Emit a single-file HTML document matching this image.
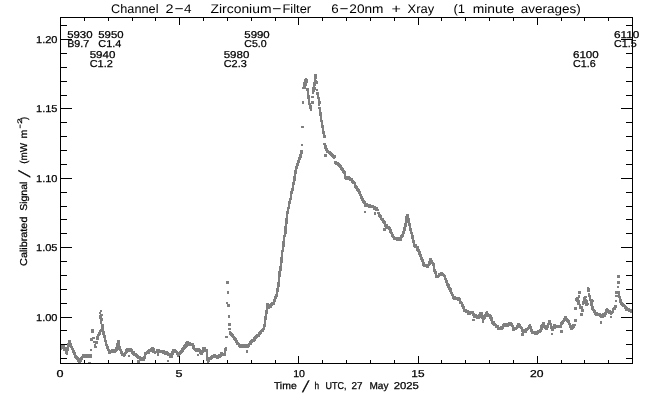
<!DOCTYPE html>
<html lang="en"><head><meta charset="utf-8"><title>Channel 2-4 Zirconium-Filter</title>
<style>html,body{margin:0;padding:0;background:#fff;width:650px;height:400px;overflow:hidden}</style>
</head><body>
<svg width="650" height="400" viewBox="0 0 650 400" style="display:block;position:absolute;left:0;top:0;will-change:transform">
<rect x="0" y="0" width="650" height="400" fill="#fff"/>
<g fill="#7f7f7f" shape-rendering="crispEdges">
<path d="M60 347h2v3h-2zM60 348h1v2h-1zM60 346h2v3h-2zM60 347h3v2h-3zM60 348h2v2h-2zM61 345h3v3h-3zM61 346h2v3h-2zM61 346h3v2h-3zM62 344h3v3h-3zM62 345h2v2h-2zM62 345h3v3h-3zM63 345h2v3h-2zM63 347h3v2h-3zM63 348h3v3h-3zM64 347h2v3h-2zM64 348h3v3h-3zM65 350h2v2h-2zM65 351h2v3h-2zM65 351h3v3h-3zM66 347h3v2h-3zM66 349h3v2h-3zM66 350h2v2h-2zM66 352h2v2h-2zM66 352h2v3h-2zM67 343h3v3h-3zM67 344h3v3h-3zM67 345h2v3h-2zM68 340h3v3h-3zM68 341h2v3h-2zM68 341h3v2h-3zM69 341h2v3h-2zM69 343h3v2h-3zM70 343h2v2h-2zM70 344h2v3h-2zM70 346h3v2h-3zM71 347h2v3h-2zM71 348h2v2h-2zM71 348h3v2h-3zM72 349h2v3h-2zM72 350h2v2h-2zM72 350h3v3h-3zM73 352h2v2h-2zM73 352h3v3h-3zM74 354h2v2h-2zM74 355h3v3h-3zM75 355h2v3h-2zM75 357h3v2h-3zM76 356h2v3h-2zM76 357h3v3h-3zM77 358h2v3h-2zM77 358h3v2h-3zM77 359h3v3h-3zM78 359h2v2h-2zM78 361h3v2h-3zM79 358h3v2h-3zM79 360h2v2h-2zM79 360h3v2h-3zM80 357h3v3h-3zM80 358h2v2h-2zM81 356h2v2h-2zM81 356h2v3h-2zM81 356h3v2h-3zM82 354h2v3h-2zM82 355h2v3h-2zM82 355h3v2h-3zM83 354h2v2h-2zM83 355h2v2h-2zM83 355h3v2h-3zM84 355h2v3h-2zM84 355h3v3h-3zM85 354h2v3h-2zM85 355h3v3h-3zM86 354h2v2h-2zM86 354h3v3h-3zM86 355h2v2h-2zM87 354h2v3h-2zM87 355h3v3h-3zM88 354h2v3h-2zM88 355h3v2h-3zM88 362h3v2h-3zM89 354h3v3h-3zM89 355h2v2h-2zM89 356h2v2h-2zM90 338h3v3h-3zM90 349h2v2h-2zM90 355h2v3h-2zM91 329h3v3h-3zM91 331h3v2h-3zM92 337h3v2h-3zM93 341h3v2h-3zM94 344h2v2h-2zM94 346h3v2h-3zM95 341h3v3h-3zM96 336h3v3h-3zM96 337h2v3h-2zM96 337h3v3h-3zM97 334h3v2h-3zM97 335h2v3h-2zM98 332h2v3h-2zM98 332h3v3h-3zM98 333h2v3h-2zM99 312h2v2h-2zM99 315h3v3h-3zM99 317h3v2h-3zM99 330h2v3h-2zM99 330h3v2h-3zM99 332h2v2h-2zM100 310h2v2h-2zM100 314h3v2h-3zM100 318h3v3h-3zM100 320h2v2h-2zM100 322h2v2h-2zM100 329h2v2h-2zM100 329h2v3h-2zM100 329h3v2h-3zM101 324h3v3h-3zM101 326h2v2h-2zM101 327h3v3h-3zM101 328h2v3h-2zM102 329h2v3h-2zM102 331h3v2h-3zM102 332h3v3h-3zM103 334h2v2h-2zM103 335h3v3h-3zM104 337h2v3h-2zM104 339h2v2h-2zM104 340h3v2h-3zM105 342h2v2h-2zM105 342h2v3h-2zM105 344h3v2h-3zM106 345h2v2h-2zM106 345h2v3h-2zM106 346h3v3h-3zM107 347h2v2h-2zM107 349h3v2h-3zM108 350h2v2h-2zM108 351h2v2h-2zM108 351h3v3h-3zM108 352h3v2h-3zM109 350h3v3h-3zM109 351h2v2h-2zM110 350h2v3h-2zM110 350h3v3h-3zM111 349h2v3h-2zM111 350h3v3h-3zM111 351h2v2h-2zM112 349h2v3h-2zM112 350h2v2h-2zM112 350h3v2h-3zM113 349h3v2h-3zM113 350h2v2h-2zM114 349h3v3h-3zM114 350h2v3h-2zM115 347h3v3h-3zM115 348h3v3h-3zM115 349h2v3h-2zM116 343h3v2h-3zM116 344h3v3h-3zM116 346h2v3h-2zM117 340h3v2h-3zM117 342h2v2h-2zM118 342h2v2h-2zM118 344h2v2h-2zM118 346h3v3h-3zM118 347h3v3h-3zM119 348h2v3h-2zM119 349h3v2h-3zM120 349h2v3h-2zM120 351h2v2h-2zM120 351h3v3h-3zM121 353h2v3h-2zM121 354h2v2h-2zM121 354h3v2h-3zM122 353h2v2h-2zM122 354h3v2h-3zM123 354h2v3h-2zM123 354h3v2h-3zM124 352h3v2h-3zM124 354h2v2h-2zM125 349h3v3h-3zM125 350h3v3h-3zM125 352h2v2h-2zM126 348h2v3h-2zM126 348h3v2h-3zM127 348h3v3h-3zM127 349h2v2h-2zM127 349h3v3h-3zM128 349h2v3h-2zM128 349h3v3h-3zM128 355h2v2h-2zM129 348h2v3h-2zM129 348h3v3h-3zM129 349h3v2h-3zM130 349h2v3h-2zM130 349h3v3h-3zM131 350h2v3h-2zM131 351h2v3h-2zM131 352h3v2h-3zM132 351h2v3h-2zM132 352h2v2h-2zM132 352h3v3h-3zM133 351h2v3h-2zM133 353h2v2h-2zM133 353h3v3h-3zM134 354h2v2h-2zM134 354h3v2h-3zM135 353h2v3h-2zM135 354h2v2h-2zM135 355h3v2h-3zM136 354h2v3h-2zM136 355h2v3h-2zM136 355h3v3h-3zM136 356h3v2h-3zM137 356h2v2h-2zM137 357h3v2h-3zM137 360h3v3h-3zM138 356h2v3h-2zM138 356h3v3h-3zM138 357h2v2h-2zM139 357h2v2h-2zM139 358h2v2h-2zM139 358h3v2h-3zM140 357h2v2h-2zM140 358h2v2h-2zM140 358h3v3h-3zM141 357h3v3h-3zM141 358h2v2h-2zM142 357h2v2h-2zM142 357h3v2h-3zM142 358h2v2h-2zM143 356h3v3h-3zM143 358h2v2h-2zM143 359h2v2h-2zM144 352h3v3h-3zM144 353h3v2h-3zM144 354h2v2h-2zM144 355h2v3h-2zM145 352h2v2h-2zM145 352h3v2h-3zM146 351h2v3h-2zM146 352h2v2h-2zM146 352h3v2h-3zM147 350h3v3h-3zM147 351h2v3h-2zM147 352h2v2h-2zM148 349h3v3h-3zM148 350h2v2h-2zM148 351h2v3h-2zM149 349h2v2h-2zM149 349h2v3h-2zM149 349h3v2h-3zM150 348h3v3h-3zM150 349h2v2h-2zM150 349h2v3h-2zM151 347h3v3h-3zM151 348h2v3h-2zM151 348h3v3h-3zM152 348h2v3h-2zM152 348h3v3h-3zM152 350h3v3h-3zM153 350h2v2h-2zM153 351h3v2h-3zM154 351h2v3h-2zM154 351h3v2h-3zM154 352h2v2h-2zM155 351h2v2h-2zM155 351h3v2h-3zM156 349h2v3h-2zM156 349h3v3h-3zM156 350h2v2h-2zM157 349h2v2h-2zM157 349h3v3h-3zM157 350h2v2h-2zM157 353h2v3h-2zM158 350h2v2h-2zM158 350h3v3h-3zM159 350h2v2h-2zM159 350h3v2h-3zM160 350h2v2h-2zM160 350h3v3h-3zM161 350h2v2h-2zM161 350h2v3h-2zM161 350h3v3h-3zM162 351h2v2h-2zM162 351h2v3h-2zM162 351h3v3h-3zM163 350h2v3h-2zM163 351h2v3h-2zM163 351h3v3h-3zM164 351h3v2h-3zM164 352h2v3h-2zM164 352h3v3h-3zM165 351h2v3h-2zM165 352h3v2h-3zM166 351h2v3h-2zM166 352h2v2h-2zM166 352h3v2h-3zM167 353h2v3h-2zM167 354h3v2h-3zM167 360h2v2h-2zM168 353h2v2h-2zM168 354h2v2h-2zM168 354h3v2h-3zM169 353h2v3h-2zM169 355h3v2h-3zM169 355h3v3h-3zM170 354h2v3h-2zM170 355h3v2h-3zM170 356h3v2h-3zM171 351h3v3h-3zM171 353h3v2h-3zM171 354h2v2h-2zM172 349h3v2h-3zM172 350h2v2h-2zM173 349h2v2h-2zM173 349h3v2h-3zM173 349h3v3h-3zM174 350h2v3h-2zM174 350h3v2h-3zM175 351h2v2h-2zM175 351h3v2h-3zM176 351h2v3h-2zM176 352h2v2h-2zM176 352h3v2h-3zM176 352h3v3h-3zM177 354h2v3h-2zM177 354h3v3h-3zM177 355h3v2h-3zM178 352h3v2h-3zM178 352h3v3h-3zM178 353h2v2h-2zM179 351h3v3h-3zM179 352h2v3h-2zM180 350h2v3h-2zM180 351h3v2h-3zM181 348h3v3h-3zM181 349h2v3h-2zM181 350h2v3h-2zM182 347h3v3h-3zM182 348h2v2h-2zM182 349h2v3h-2zM183 345h2v3h-2zM183 346h2v2h-2zM183 346h3v3h-3zM184 344h2v3h-2zM184 345h2v3h-2zM184 345h3v3h-3zM185 342h3v3h-3zM185 344h2v3h-2zM185 344h3v3h-3zM186 341h3v3h-3zM186 343h2v3h-2zM186 343h3v2h-3zM187 342h2v3h-2zM187 342h3v3h-3zM187 343h3v2h-3zM188 342h3v3h-3zM188 343h2v3h-2zM189 342h2v3h-2zM189 343h2v3h-2zM189 343h3v2h-3zM190 343h2v2h-2zM190 343h3v2h-3zM191 343h2v3h-2zM191 343h3v3h-3zM192 345h2v3h-2zM192 345h3v3h-3zM192 346h3v3h-3zM193 347h2v2h-2zM193 348h3v2h-3zM194 348h2v2h-2zM194 348h2v3h-2zM194 348h3v2h-3zM195 348h3v2h-3zM195 349h2v2h-2zM195 349h2v3h-2zM196 348h2v3h-2zM196 349h3v3h-3zM197 348h2v2h-2zM197 348h3v3h-3zM197 349h2v2h-2zM197 354h2v2h-2zM198 348h2v3h-2zM198 349h2v2h-2zM198 349h3v2h-3zM198 349h3v3h-3zM199 350h2v3h-2zM199 351h3v3h-3zM200 350h2v3h-2zM200 352h2v2h-2zM200 352h3v3h-3zM201 351h3v2h-3zM201 352h2v3h-2zM202 347h3v3h-3zM202 349h2v2h-2zM202 349h2v3h-2zM203 347h2v2h-2zM203 347h3v3h-3zM203 348h2v2h-2zM204 347h2v3h-2zM204 349h2v3h-2zM204 350h3v2h-3zM205 349h3v3h-3zM205 350h2v2h-2zM205 350h3v2h-3zM206 352h2v2h-2zM206 354h2v3h-2zM206 357h3v2h-3zM206 359h3v2h-3zM207 359h3v3h-3zM207 360h2v3h-2zM207 361h2v3h-2zM207 362h2v2h-2zM208 357h3v3h-3zM208 359h2v3h-2zM209 357h2v2h-2zM209 357h3v3h-3zM210 356h3v3h-3zM210 357h2v2h-2zM211 355h3v3h-3zM211 356h2v3h-2zM211 356h3v2h-3zM212 355h2v3h-2zM212 355h3v3h-3zM213 354h2v3h-2zM213 355h2v2h-2zM213 355h3v2h-3zM214 354h2v3h-2zM214 355h2v2h-2zM214 355h3v2h-3zM214 355h3v3h-3zM215 355h2v3h-2zM215 356h3v2h-3zM216 355h2v3h-2zM216 355h3v3h-3zM216 356h2v3h-2zM217 355h2v3h-2zM217 356h3v2h-3zM217 357h2v2h-2zM218 354h2v3h-2zM218 355h2v3h-2zM218 355h3v3h-3zM219 354h3v3h-3zM219 355h2v2h-2zM220 352h3v3h-3zM220 354h2v2h-2zM220 354h2v3h-2zM221 353h2v2h-2zM221 353h3v3h-3zM222 353h2v3h-2zM222 353h3v2h-3zM223 353h2v3h-2zM223 353h3v2h-3zM223 353h3v3h-3zM224 348h3v3h-3zM224 350h2v2h-2zM224 351h2v3h-2zM225 336h3v2h-3zM225 347h2v3h-2zM226 281h3v3h-3zM226 302h2v2h-2zM227 291h2v3h-2zM227 304h3v3h-3zM228 315h2v3h-2zM228 323h3v3h-3zM228 328h3v2h-3zM229 331h2v2h-2zM229 332h2v2h-2zM229 332h3v3h-3zM230 332h2v3h-2zM230 333h2v2h-2zM230 333h3v3h-3zM231 334h2v3h-2zM231 334h3v2h-3zM231 334h3v3h-3zM232 336h2v2h-2zM232 336h3v2h-3zM233 336h2v3h-2zM233 337h2v3h-2zM233 337h3v2h-3zM234 338h2v3h-2zM234 338h3v3h-3zM235 338h2v3h-2zM235 339h2v3h-2zM235 341h3v2h-3zM236 340h2v3h-2zM236 341h2v3h-2zM236 342h3v2h-3zM236 342h3v3h-3zM237 342h2v3h-2zM237 343h3v2h-3zM238 344h2v2h-2zM238 344h2v3h-2zM238 344h3v3h-3zM239 344h2v2h-2zM239 344h3v3h-3zM239 345h2v3h-2zM240 344h2v3h-2zM240 344h3v3h-3zM240 345h2v3h-2zM241 344h3v2h-3zM241 345h2v2h-2zM242 344h2v2h-2zM242 344h2v3h-2zM242 345h3v3h-3zM243 345h2v3h-2zM243 345h3v3h-3zM244 344h2v3h-2zM244 345h2v2h-2zM244 345h3v2h-3zM245 344h3v3h-3zM245 345h2v2h-2zM246 344h2v3h-2zM246 345h2v3h-2zM246 346h3v2h-3zM246 350h2v3h-2zM247 344h2v2h-2zM247 344h3v3h-3zM247 346h2v2h-2zM248 343h3v2h-3zM248 344h2v3h-2zM249 341h3v3h-3zM249 342h2v2h-2zM249 342h3v3h-3zM250 340h2v3h-2zM250 340h3v2h-3zM250 341h2v2h-2zM251 339h3v2h-3zM251 340h2v3h-2zM251 341h2v2h-2zM252 339h3v2h-3zM252 339h3v3h-3zM252 340h2v2h-2zM253 337h3v3h-3zM253 338h2v3h-2zM254 336h3v2h-3zM254 337h2v2h-2zM254 338h2v3h-2zM255 335h2v3h-2zM255 336h2v3h-2zM255 336h3v2h-3zM256 334h2v3h-2zM256 334h3v3h-3zM256 335h2v2h-2zM257 334h2v2h-2zM257 334h3v3h-3zM258 332h2v3h-2zM258 333h2v3h-2zM258 333h3v2h-3zM259 331h2v3h-2zM259 332h3v2h-3zM259 333h2v2h-2zM260 330h2v3h-2zM260 330h3v2h-3zM260 332h2v2h-2zM261 329h2v3h-2zM261 329h3v2h-3zM261 330h3v2h-3zM262 328h2v2h-2zM262 328h3v2h-3zM263 324h3v3h-3zM263 325h2v3h-2zM263 326h2v3h-2zM264 316h3v2h-3zM264 318h3v2h-3zM264 319h2v3h-2zM264 321h2v2h-2zM264 323h2v2h-2zM265 310h3v2h-3zM265 312h3v2h-3zM265 314h2v2h-2zM266 303h3v2h-3zM266 303h3v3h-3zM266 304h3v3h-3zM266 305h2v2h-2zM266 307h2v2h-2zM266 308h2v3h-2zM267 304h2v3h-2zM267 305h3v2h-3zM267 307h3v2h-3zM268 305h2v2h-2zM268 305h2v3h-2zM268 305h3v2h-3zM269 304h2v3h-2zM269 305h2v3h-2zM269 305h3v3h-3zM270 303h3v3h-3zM270 304h2v2h-2zM270 304h2v3h-2zM271 302h3v2h-3zM271 303h2v3h-2zM271 303h3v2h-3zM272 302h2v2h-2zM272 302h3v3h-3zM273 299h2v3h-2zM273 299h3v3h-3zM273 300h2v3h-2zM274 296h3v2h-3zM274 296h3v3h-3zM274 298h2v2h-2zM274 299h2v2h-2zM275 294h3v3h-3zM275 295h2v2h-2zM275 295h3v2h-3zM276 288h3v2h-3zM276 290h3v2h-3zM276 291h2v3h-2zM276 293h2v2h-2zM277 282h3v3h-3zM277 284h3v3h-3zM277 286h2v2h-2zM278 271h3v3h-3zM278 273h3v2h-3zM278 274h3v3h-3zM278 276h2v2h-2zM278 277h2v3h-2zM278 279h2v2h-2zM278 279h2v3h-2zM278 280h2v3h-2zM279 266h3v3h-3zM279 268h3v3h-3zM279 270h2v3h-2zM280 257h3v2h-3zM280 258h3v3h-3zM280 260h3v3h-3zM280 262h2v2h-2zM280 263h2v2h-2zM280 263h2v3h-2zM280 264h2v3h-2zM281 250h3v2h-3zM281 252h2v3h-2zM281 253h2v2h-2zM281 255h2v2h-2zM282 241h3v2h-3zM282 243h3v2h-3zM282 245h3v2h-3zM282 246h2v3h-2zM282 248h2v2h-2zM283 235h3v2h-3zM283 237h2v2h-2zM283 239h2v2h-2zM284 226h3v2h-3zM284 227h3v3h-3zM284 229h3v3h-3zM284 231h3v3h-3zM284 233h2v3h-2zM285 218h3v2h-3zM285 219h3v3h-3zM285 221h3v3h-3zM285 224h2v2h-2zM286 211h3v3h-3zM286 213h2v3h-2zM286 216h2v2h-2zM287 207h3v2h-3zM287 208h2v3h-2zM287 209h2v2h-2zM288 201h3v3h-3zM288 203h2v2h-2zM288 205h2v2h-2zM289 198h3v2h-3zM289 199h2v3h-2zM290 191h3v3h-3zM290 192h3v2h-3zM290 194h2v2h-2zM290 196h2v2h-2zM291 188h3v3h-3zM291 190h2v3h-2zM292 182h3v3h-3zM292 183h3v2h-3zM292 185h2v2h-2zM292 187h2v2h-2zM293 176h3v3h-3zM293 178h3v3h-3zM293 180h2v3h-2zM294 170h3v2h-3zM294 172h3v2h-3zM294 174h2v2h-2zM295 166h3v3h-3zM295 168h2v2h-2zM295 169h2v2h-2zM296 163h3v3h-3zM296 164h2v3h-2zM297 160h3v3h-3zM297 162h2v3h-2zM297 163h2v3h-2zM298 157h3v3h-3zM298 158h2v3h-2zM298 158h3v2h-3zM299 154h3v2h-3zM299 156h3v2h-3zM299 157h2v2h-2zM300 150h3v2h-3zM300 152h3v2h-3zM300 153h2v2h-2zM301 126h3v2h-3zM301 144h2v2h-2zM302 87h3v2h-3zM302 101h2v3h-2zM303 82h3v3h-3zM303 83h2v3h-2zM303 85h2v2h-2zM303 87h3v2h-3zM304 79h3v2h-3zM304 80h2v2h-2zM304 81h2v3h-2zM304 83h3v2h-3zM304 84h3v2h-3zM304 85h2v3h-2zM305 78h2v2h-2zM305 80h3v3h-3zM305 81h2v3h-2zM306 79h2v2h-2zM306 88h3v3h-3zM307 91h2v3h-2zM307 93h2v2h-2zM307 95h3v2h-3zM307 96h3v3h-3zM307 97h3v2h-3zM308 99h2v2h-2zM308 101h2v2h-2zM308 103h3v2h-3zM309 103h2v3h-2zM309 105h3v2h-3zM309 107h3v2h-3zM310 109h2v2h-2zM311 96h3v2h-3zM311 101h3v3h-3zM312 87h3v3h-3zM312 89h3v3h-3zM312 91h2v3h-2zM313 82h3v2h-3zM313 84h3v2h-3zM313 86h2v2h-2zM313 87h2v2h-2zM313 87h3v3h-3zM314 74h3v2h-3zM314 76h3v3h-3zM314 78h2v3h-2zM314 79h2v3h-2zM314 80h2v2h-2zM315 80h2v2h-2zM315 81h3v3h-3zM316 89h2v2h-2zM316 92h3v3h-3zM317 95h2v2h-2zM317 97h3v2h-3zM318 99h2v2h-2zM318 101h3v3h-3zM318 104h2v2h-2zM318 107h3v2h-3zM319 109h2v2h-2zM319 110h2v3h-2zM319 112h3v2h-3zM319 114h3v2h-3zM320 116h2v2h-2zM320 118h2v2h-2zM320 120h3v2h-3zM321 122h2v2h-2zM321 124h2v2h-2zM321 125h3v3h-3zM321 126h3v2h-3zM322 128h2v2h-2zM322 130h2v2h-2zM322 131h3v3h-3zM322 132h3v2h-3zM323 133h2v2h-2zM323 134h2v3h-2zM323 135h3v3h-3zM323 143h3v2h-3zM324 144h2v2h-2zM324 145h3v3h-3zM324 146h3v3h-3zM324 154h3v3h-3zM325 148h2v2h-2zM325 148h3v3h-3zM325 149h3v2h-3zM326 150h2v2h-2zM326 150h3v2h-3zM326 150h3v3h-3zM327 151h2v2h-2zM327 151h3v2h-3zM328 151h2v2h-2zM328 151h2v3h-2zM328 152h3v2h-3zM329 151h2v3h-2zM329 152h3v3h-3zM329 153h2v2h-2zM330 153h2v2h-2zM330 153h2v3h-2zM330 153h3v2h-3zM331 153h2v3h-2zM331 154h3v3h-3zM332 154h2v3h-2zM332 156h3v2h-3zM333 155h3v3h-3zM333 156h2v3h-2zM334 161h3v3h-3zM335 161h2v3h-2zM335 162h3v3h-3zM335 163h3v2h-3zM336 162h2v3h-2zM336 162h3v3h-3zM337 163h2v2h-2zM337 163h3v3h-3zM337 164h3v2h-3zM338 164h2v2h-2zM338 164h3v3h-3zM339 164h2v2h-2zM339 165h3v3h-3zM339 166h3v2h-3zM340 166h2v3h-2zM340 167h3v2h-3zM340 168h3v2h-3zM341 168h2v2h-2zM341 168h3v3h-3zM342 169h2v2h-2zM342 170h3v3h-3zM343 170h2v3h-2zM343 171h3v3h-3zM344 172h2v2h-2zM344 173h2v2h-2zM344 174h2v2h-2zM344 176h3v3h-3zM344 177h3v2h-3zM345 176h3v2h-3zM345 177h2v3h-2zM345 177h3v2h-3zM346 177h2v3h-2zM346 177h3v3h-3zM347 176h3v3h-3zM347 177h3v2h-3zM347 178h2v2h-2zM348 177h2v2h-2zM348 177h3v2h-3zM349 178h2v2h-2zM349 178h2v3h-2zM349 178h3v3h-3zM350 178h2v2h-2zM350 178h2v3h-2zM350 178h3v3h-3zM351 180h2v2h-2zM351 181h3v2h-3zM352 180h2v2h-2zM352 181h2v2h-2zM352 181h3v3h-3zM353 181h2v3h-2zM353 182h2v2h-2zM353 182h3v2h-3zM354 183h2v2h-2zM354 184h2v2h-2zM354 185h3v3h-3zM355 186h2v3h-2zM355 186h3v2h-3zM355 186h3v3h-3zM356 187h2v3h-2zM356 188h2v3h-2zM356 188h3v3h-3zM357 189h2v2h-2zM357 189h3v3h-3zM358 191h2v3h-2zM358 191h3v2h-3zM358 191h3v3h-3zM359 193h2v2h-2zM359 194h3v2h-3zM360 195h2v3h-2zM360 196h3v3h-3zM361 198h2v2h-2zM361 198h2v3h-2zM361 198h3v2h-3zM362 199h2v2h-2zM362 200h2v3h-2zM362 200h3v2h-3zM363 201h2v2h-2zM363 201h3v3h-3zM363 202h3v2h-3zM364 203h2v3h-2zM364 203h3v3h-3zM364 204h3v3h-3zM364 211h2v2h-2zM365 203h2v2h-2zM365 203h3v3h-3zM365 204h3v2h-3zM366 203h2v2h-2zM366 205h3v2h-3zM367 204h2v2h-2zM367 204h3v3h-3zM367 205h3v2h-3zM368 205h2v3h-2zM368 205h3v2h-3zM369 204h2v3h-2zM369 205h3v3h-3zM370 205h3v2h-3zM370 206h2v2h-2zM371 206h2v2h-2zM371 206h3v2h-3zM372 205h2v3h-2zM372 206h3v2h-3zM373 206h2v3h-2zM373 206h3v3h-3zM373 207h2v3h-2zM374 207h2v2h-2zM374 208h3v2h-3zM374 212h2v3h-2zM375 207h2v2h-2zM375 207h3v2h-3zM375 208h2v3h-2zM376 209h2v2h-2zM376 209h3v2h-3zM377 209h2v2h-2zM377 212h3v2h-3zM378 213h2v3h-2zM378 214h3v2h-3zM378 214h3v3h-3zM379 214h2v2h-2zM379 215h3v3h-3zM379 216h3v2h-3zM380 216h2v3h-2zM380 218h3v2h-3zM381 218h2v3h-2zM381 218h3v2h-3zM382 218h2v3h-2zM382 219h2v3h-2zM382 220h3v3h-3zM383 220h2v3h-2zM383 221h2v2h-2zM383 221h3v3h-3zM383 228h3v3h-3zM384 223h2v3h-2zM384 224h2v3h-2zM384 224h3v2h-3zM384 225h3v2h-3zM385 224h3v3h-3zM385 225h2v3h-2zM385 226h3v3h-3zM386 225h2v3h-2zM386 226h2v2h-2zM386 226h3v3h-3zM387 226h2v3h-2zM387 226h3v3h-3zM387 227h3v2h-3zM388 227h2v3h-2zM388 227h3v3h-3zM389 228h2v3h-2zM389 229h3v3h-3zM389 230h3v3h-3zM390 232h2v2h-2zM390 232h3v2h-3zM391 234h2v2h-2zM391 234h2v3h-2zM391 234h3v3h-3zM392 235h2v2h-2zM392 236h3v2h-3zM393 236h2v3h-2zM393 237h3v3h-3zM393 238h3v2h-3zM394 237h3v2h-3zM394 238h2v2h-2zM394 238h3v2h-3zM395 237h3v2h-3zM395 238h2v2h-2zM396 238h2v3h-2zM396 238h3v2h-3zM396 238h3v3h-3zM397 237h2v2h-2zM397 238h3v2h-3zM398 237h3v3h-3zM398 238h2v2h-2zM398 239h3v2h-3zM399 238h2v3h-2zM399 238h3v3h-3zM399 239h3v2h-3zM400 235h2v3h-2zM400 236h3v2h-3zM400 237h2v3h-2zM401 234h2v3h-2zM401 234h3v3h-3zM402 231h2v3h-2zM402 231h3v2h-3zM402 231h3v3h-3zM402 233h2v3h-2zM403 227h3v3h-3zM403 228h3v3h-3zM403 229h2v3h-2zM404 223h3v2h-3zM404 225h3v2h-3zM404 226h2v2h-2zM405 216h3v3h-3zM405 217h3v2h-3zM405 219h3v2h-3zM405 221h2v2h-2zM406 214h3v3h-3zM406 215h2v3h-2zM406 216h2v2h-2zM407 216h2v3h-2zM407 218h3v3h-3zM407 220h3v3h-3zM408 222h2v2h-2zM408 223h3v3h-3zM409 225h2v3h-2zM409 226h2v3h-2zM409 228h3v3h-3zM410 230h2v2h-2zM410 232h3v2h-3zM411 233h2v3h-2zM411 235h3v2h-3zM411 237h3v2h-3zM412 238h2v2h-2zM412 240h3v2h-3zM412 240h3v3h-3zM413 241h2v3h-2zM413 243h2v2h-2zM413 244h3v2h-3zM413 245h3v2h-3zM414 244h2v3h-2zM414 244h3v3h-3zM414 246h3v2h-3zM415 246h2v2h-2zM415 246h3v2h-3zM416 246h3v3h-3zM416 247h2v3h-2zM416 248h3v3h-3zM417 248h2v2h-2zM417 249h3v3h-3zM418 250h2v2h-2zM418 251h3v3h-3zM418 252h3v3h-3zM419 253h2v3h-2zM419 254h3v3h-3zM420 256h2v2h-2zM420 257h3v2h-3zM420 258h3v2h-3zM421 259h2v3h-2zM421 259h3v3h-3zM422 260h2v3h-2zM422 261h2v2h-2zM422 262h3v2h-3zM422 263h3v3h-3zM423 264h2v3h-2zM423 264h3v3h-3zM423 265h2v2h-2zM424 264h2v3h-2zM424 265h2v2h-2zM424 265h3v2h-3zM425 264h2v2h-2zM425 265h3v2h-3zM426 264h2v3h-2zM426 264h3v2h-3zM426 265h3v3h-3zM427 264h2v2h-2zM427 264h3v2h-3zM428 261h3v3h-3zM428 263h2v3h-2zM428 263h3v2h-3zM429 258h3v2h-3zM429 258h3v3h-3zM429 260h2v2h-2zM430 260h2v2h-2zM430 260h2v3h-2zM430 260h3v3h-3zM431 262h2v2h-2zM431 262h3v2h-3zM432 263h2v3h-2zM432 263h3v3h-3zM432 264h2v2h-2zM432 264h3v2h-3zM433 265h2v3h-2zM433 267h2v3h-2zM433 269h3v2h-3zM433 269h3v3h-3zM434 269h2v3h-2zM434 271h3v3h-3zM434 272h3v2h-3zM435 273h2v3h-2zM435 275h3v3h-3zM436 275h2v2h-2zM436 275h3v3h-3zM437 275h2v2h-2zM437 275h3v2h-3zM438 273h3v3h-3zM438 274h2v2h-2zM438 274h3v2h-3zM439 273h2v2h-2zM439 274h3v2h-3zM440 272h3v2h-3zM440 273h2v3h-2zM441 273h2v2h-2zM441 273h3v2h-3zM442 274h2v2h-2zM442 274h3v2h-3zM443 274h2v3h-2zM443 275h3v2h-3zM444 276h2v2h-2zM444 277h2v2h-2zM444 278h3v2h-3zM445 279h2v3h-2zM445 280h2v2h-2zM445 280h3v3h-3zM446 282h2v2h-2zM446 283h3v3h-3zM447 284h2v2h-2zM447 284h3v3h-3zM447 286h3v2h-3zM448 287h2v3h-2zM448 287h3v2h-3zM448 288h3v2h-3zM449 287h2v3h-2zM449 288h3v3h-3zM449 289h3v3h-3zM450 291h2v2h-2zM450 291h2v3h-2zM450 292h3v2h-3zM451 292h2v2h-2zM451 294h3v2h-3zM452 294h2v3h-2zM452 296h3v2h-3zM452 296h3v3h-3zM453 296h2v3h-2zM453 296h3v3h-3zM453 297h3v3h-3zM454 296h2v3h-2zM454 297h3v3h-3zM455 297h2v3h-2zM455 297h3v3h-3zM455 298h3v2h-3zM456 298h2v2h-2zM456 298h3v2h-3zM457 297h2v3h-2zM457 298h3v3h-3zM458 297h2v3h-2zM458 298h3v3h-3zM458 299h2v2h-2zM458 299h3v2h-3zM459 299h2v3h-2zM459 302h3v2h-3zM460 301h2v3h-2zM460 302h3v2h-3zM461 302h2v3h-2zM461 304h2v2h-2zM461 304h3v3h-3zM462 306h2v2h-2zM462 306h3v3h-3zM462 307h2v2h-2zM463 308h2v3h-2zM463 309h3v3h-3zM464 309h2v3h-2zM464 309h3v2h-3zM464 310h2v2h-2zM465 310h2v3h-2zM465 311h3v2h-3zM466 310h2v2h-2zM466 310h3v3h-3zM467 310h2v3h-2zM467 312h3v3h-3zM468 312h2v2h-2zM468 312h2v3h-2zM468 312h3v2h-3zM468 312h3v3h-3zM469 311h2v3h-2zM469 311h3v2h-3zM470 311h2v2h-2zM470 311h3v2h-3zM470 312h2v2h-2zM471 311h2v2h-2zM471 311h2v3h-2zM471 311h3v2h-3zM472 312h2v2h-2zM472 312h2v3h-2zM472 313h3v3h-3zM472 319h3v2h-3zM473 313h2v3h-2zM473 314h3v2h-3zM473 315h3v3h-3zM474 315h2v2h-2zM474 315h2v3h-2zM474 315h3v3h-3zM475 314h2v3h-2zM475 315h2v3h-2zM475 315h3v3h-3zM476 315h3v3h-3zM476 316h2v3h-2zM476 316h3v3h-3zM477 316h2v3h-2zM477 316h3v2h-3zM477 317h3v2h-3zM478 314h3v2h-3zM478 315h2v2h-2zM478 315h3v3h-3zM479 312h3v3h-3zM479 313h2v2h-2zM480 312h3v3h-3zM480 313h2v2h-2zM480 313h2v3h-2zM481 314h2v2h-2zM481 315h3v2h-3zM481 316h3v3h-3zM482 316h2v2h-2zM482 317h3v2h-3zM482 317h3v3h-3zM482 320h2v3h-2zM483 316h3v2h-3zM483 316h3v3h-3zM483 317h2v3h-2zM484 314h3v2h-3zM484 315h2v2h-2zM485 312h3v3h-3zM485 313h2v3h-2zM485 314h2v3h-2zM486 311h2v3h-2zM486 312h2v3h-2zM486 313h3v3h-3zM487 313h2v3h-2zM487 314h2v2h-2zM487 314h3v3h-3zM488 314h2v2h-2zM488 314h3v3h-3zM489 315h2v2h-2zM489 315h3v3h-3zM489 316h2v3h-2zM490 316h2v2h-2zM490 317h2v2h-2zM490 317h3v3h-3zM490 319h3v2h-3zM491 320h2v3h-2zM491 321h3v3h-3zM492 321h3v3h-3zM492 322h2v3h-2zM492 322h3v3h-3zM493 323h2v2h-2zM493 323h3v3h-3zM494 324h2v2h-2zM494 324h3v2h-3zM495 324h2v2h-2zM495 325h3v3h-3zM496 325h2v3h-2zM496 325h3v3h-3zM496 326h2v2h-2zM497 326h2v3h-2zM497 327h3v2h-3zM497 327h3v3h-3zM498 327h2v2h-2zM498 327h2v3h-2zM498 328h3v2h-3zM499 327h2v2h-2zM499 327h3v2h-3zM500 326h3v3h-3zM500 327h2v3h-2zM500 328h3v2h-3zM501 326h2v3h-2zM501 326h3v3h-3zM502 324h3v3h-3zM502 325h3v2h-3zM502 326h2v3h-2zM503 323h2v3h-2zM503 324h3v2h-3zM503 324h3v3h-3zM504 323h2v2h-2zM504 323h3v3h-3zM504 324h3v3h-3zM505 324h2v2h-2zM505 325h3v2h-3zM506 324h3v3h-3zM506 325h2v2h-2zM507 323h3v3h-3zM507 324h2v3h-2zM507 325h2v2h-2zM508 322h3v2h-3zM508 323h2v2h-2zM508 323h2v3h-2zM509 322h2v2h-2zM509 322h3v2h-3zM510 322h2v2h-2zM510 323h3v2h-3zM510 323h3v3h-3zM511 323h2v3h-2zM511 325h3v2h-3zM512 327h2v2h-2zM512 328h2v3h-2zM512 328h3v3h-3zM513 327h2v3h-2zM513 327h3v2h-3zM513 328h2v3h-2zM514 327h2v3h-2zM514 327h3v3h-3zM515 327h2v2h-2zM515 327h3v2h-3zM516 325h3v3h-3zM516 326h2v3h-2zM517 323h3v3h-3zM517 324h2v3h-2zM518 323h2v3h-2zM518 324h2v2h-2zM518 324h3v3h-3zM519 325h2v2h-2zM519 326h3v2h-3zM520 326h2v3h-2zM520 327h3v2h-3zM521 328h2v3h-2zM521 329h2v3h-2zM521 329h3v2h-3zM521 333h3v3h-3zM522 330h3v2h-3zM522 331h2v2h-2zM523 329h3v2h-3zM523 331h2v2h-2zM524 329h2v2h-2zM524 330h2v2h-2zM524 330h3v2h-3zM525 328h3v3h-3zM525 329h2v3h-2zM525 330h2v3h-2zM526 328h2v2h-2zM526 328h2v3h-2zM526 328h3v2h-3zM527 327h2v2h-2zM527 327h3v2h-3zM528 325h2v3h-2zM528 325h3v2h-3zM528 326h2v3h-2zM529 324h2v3h-2zM529 325h2v3h-2zM529 326h3v2h-3zM530 327h2v2h-2zM530 328h2v3h-2zM530 329h3v3h-3zM531 331h2v2h-2zM531 331h3v2h-3zM531 332h3v2h-3zM532 331h2v3h-2zM532 331h3v2h-3zM532 332h3v2h-3zM533 332h2v2h-2zM533 332h3v2h-3zM534 331h3v3h-3zM534 332h2v3h-2zM535 331h2v3h-2zM535 332h3v3h-3zM536 331h3v2h-3zM536 332h2v2h-2zM536 333h2v2h-2zM537 330h3v3h-3zM537 331h2v2h-2zM537 332h2v2h-2zM538 330h2v2h-2zM538 330h3v3h-3zM538 331h3v2h-3zM539 329h3v3h-3zM539 330h2v2h-2zM540 325h3v3h-3zM540 328h2v2h-2zM540 328h3v2h-3zM541 324h3v2h-3zM541 325h2v2h-2zM542 322h2v3h-2zM542 322h3v3h-3zM542 323h2v2h-2zM543 323h2v3h-2zM543 324h2v2h-2zM543 325h3v3h-3zM544 325h2v3h-2zM544 326h3v3h-3zM544 327h3v2h-3zM545 327h2v2h-2zM545 327h3v3h-3zM545 328h3v2h-3zM546 325h2v2h-2zM546 325h3v3h-3zM546 326h2v3h-2zM547 323h3v2h-3zM547 324h2v2h-2zM548 320h3v3h-3zM548 321h2v3h-2zM548 322h2v2h-2zM549 322h2v2h-2zM549 323h3v2h-3zM550 324h2v3h-2zM550 326h2v2h-2zM550 327h3v2h-3zM551 328h2v3h-2zM551 328h3v3h-3zM551 329h2v2h-2zM551 333h2v2h-2zM552 326h3v3h-3zM552 327h2v2h-2zM552 327h2v3h-2zM553 324h3v3h-3zM553 325h2v2h-2zM553 326h3v3h-3zM554 325h3v2h-3zM554 326h2v2h-2zM555 325h2v2h-2zM555 325h3v2h-3zM556 325h2v2h-2zM556 325h3v2h-3zM556 326h2v2h-2zM557 326h2v2h-2zM557 326h3v2h-3zM558 325h2v2h-2zM558 325h3v3h-3zM558 326h2v2h-2zM559 325h3v3h-3zM559 326h2v2h-2zM560 322h3v3h-3zM560 324h2v2h-2zM560 325h2v2h-2zM560 330h3v3h-3zM561 321h3v3h-3zM561 322h2v3h-2zM561 322h3v2h-3zM562 320h2v3h-2zM562 320h3v2h-3zM562 321h2v2h-2zM563 318h3v2h-3zM563 318h3v3h-3zM563 319h2v2h-2zM564 316h3v3h-3zM564 317h3v3h-3zM564 318h2v2h-2zM565 317h2v2h-2zM565 318h3v2h-3zM565 318h3v3h-3zM566 319h2v2h-2zM566 319h3v2h-3zM566 320h3v2h-3zM567 320h2v3h-2zM567 320h3v3h-3zM568 321h2v3h-2zM568 323h2v2h-2zM568 323h3v2h-3zM569 324h2v2h-2zM569 326h3v2h-3zM570 325h2v3h-2zM570 327h2v3h-2zM570 327h3v2h-3zM570 328h3v2h-3zM571 327h2v3h-2zM571 327h3v2h-3zM572 324h3v3h-3zM572 325h2v3h-2zM572 326h3v2h-3zM573 324h2v2h-2zM573 324h3v2h-3zM574 307h3v3h-3zM574 319h3v3h-3zM575 298h3v3h-3zM576 297h2v2h-2zM576 299h3v3h-3zM577 298h2v2h-2zM577 301h2v2h-2zM577 302h3v3h-3zM578 291h3v3h-3zM578 295h2v3h-2zM578 300h2v2h-2zM579 304h2v3h-2zM579 307h2v2h-2zM580 313h3v3h-3zM581 306h2v3h-2zM581 309h3v3h-3zM582 301h3v2h-3zM582 303h2v2h-2zM583 297h2v2h-2zM583 298h3v3h-3zM583 300h2v2h-2zM584 296h3v2h-3zM584 299h3v2h-3zM584 301h2v3h-2zM585 300h3v3h-3zM585 304h3v2h-3zM586 303h3v2h-3zM587 287h2v3h-2zM587 288h3v3h-3zM587 290h3v2h-3zM588 293h2v2h-2zM588 295h3v2h-3zM589 297h2v2h-2zM589 299h3v2h-3zM590 299h3v2h-3zM590 301h2v3h-2zM590 302h3v3h-3zM590 303h3v3h-3zM591 300h3v2h-3zM591 305h2v2h-2zM591 306h3v3h-3zM591 307h3v3h-3zM592 308h2v3h-2zM592 309h3v2h-3zM593 310h2v2h-2zM593 310h3v3h-3zM593 311h3v2h-3zM594 311h2v3h-2zM594 312h3v3h-3zM595 312h3v3h-3zM595 313h2v2h-2zM595 313h3v3h-3zM596 313h2v2h-2zM596 313h3v2h-3zM597 313h2v2h-2zM597 313h2v3h-2zM597 314h3v2h-3zM598 313h3v3h-3zM598 314h2v2h-2zM599 314h2v2h-2zM599 314h3v2h-3zM599 315h3v2h-3zM600 314h3v3h-3zM600 315h2v3h-2zM600 316h3v2h-3zM600 321h2v3h-2zM601 315h2v3h-2zM601 315h3v2h-3zM601 316h3v2h-3zM602 313h3v3h-3zM602 314h2v2h-2zM602 314h3v2h-3zM603 313h2v3h-2zM603 314h3v2h-3zM603 315h3v2h-3zM604 312h3v2h-3zM604 312h3v3h-3zM604 313h2v3h-2zM605 309h3v3h-3zM605 310h2v3h-2zM606 308h2v3h-2zM606 309h2v2h-2zM606 309h3v2h-3zM607 309h2v2h-2zM607 309h2v3h-2zM607 310h3v3h-3zM608 310h2v3h-2zM608 311h3v3h-3zM609 310h2v3h-2zM609 311h2v2h-2zM609 311h3v3h-3zM610 311h3v2h-3zM610 312h3v2h-3zM610 313h2v2h-2zM610 316h2v2h-2zM611 311h2v3h-2zM611 311h3v2h-3zM612 308h2v3h-2zM612 308h3v2h-3zM612 310h2v2h-2zM613 307h2v3h-2zM613 307h3v3h-3zM613 308h2v2h-2zM614 305h3v3h-3zM614 307h2v3h-2zM615 291h3v3h-3zM615 295h3v2h-3zM615 300h2v2h-2zM617 275h3v3h-3zM617 281h3v3h-3zM617 286h2v2h-2zM618 291h2v3h-2zM618 293h2v3h-2zM618 296h3v2h-3zM619 297h2v3h-2zM619 299h2v2h-2zM619 299h3v3h-3zM619 300h3v3h-3zM620 301h2v2h-2zM620 302h3v2h-3zM620 303h3v2h-3zM621 303h2v3h-2zM621 303h3v3h-3zM622 303h2v3h-2zM622 304h2v2h-2zM622 304h3v3h-3zM623 304h2v3h-2zM623 305h3v2h-3zM624 305h2v3h-2zM624 306h3v3h-3zM624 307h2v2h-2zM625 307h2v2h-2zM625 308h2v3h-2zM625 308h3v3h-3zM626 307h2v2h-2zM626 308h3v3h-3zM627 308h2v2h-2zM627 309h3v2h-3zM628 308h2v3h-2zM628 310h3v2h-3zM629 310h2v2h-2zM629 310h3v2h-3zM630 309h2v2h-2zM630 310h2v2h-2zM630 310h3v3h-3zM631 310h2v2h-2z"/>
</g>
<g fill="#000" shape-rendering="crispEdges">
<rect x="60" y="17" width="573" height="1"/>
<rect x="60" y="363" width="573" height="1"/>
<rect x="60" y="17" width="1" height="347"/>
<rect x="632" y="17" width="1" height="347"/>
<rect x="60" y="356" width="1" height="8"/>
<rect x="60" y="17" width="1" height="8"/>
<rect x="84" y="360" width="1" height="4"/>
<rect x="84" y="17" width="1" height="4"/>
<rect x="108" y="360" width="1" height="4"/>
<rect x="108" y="17" width="1" height="4"/>
<rect x="132" y="360" width="1" height="4"/>
<rect x="132" y="17" width="1" height="4"/>
<rect x="155" y="360" width="1" height="4"/>
<rect x="155" y="17" width="1" height="4"/>
<rect x="179" y="356" width="1" height="8"/>
<rect x="179" y="17" width="1" height="8"/>
<rect x="203" y="360" width="1" height="4"/>
<rect x="203" y="17" width="1" height="4"/>
<rect x="227" y="360" width="1" height="4"/>
<rect x="227" y="17" width="1" height="4"/>
<rect x="251" y="360" width="1" height="4"/>
<rect x="251" y="17" width="1" height="4"/>
<rect x="275" y="360" width="1" height="4"/>
<rect x="275" y="17" width="1" height="4"/>
<rect x="298" y="356" width="1" height="8"/>
<rect x="298" y="17" width="1" height="8"/>
<rect x="322" y="360" width="1" height="4"/>
<rect x="322" y="17" width="1" height="4"/>
<rect x="346" y="360" width="1" height="4"/>
<rect x="346" y="17" width="1" height="4"/>
<rect x="370" y="360" width="1" height="4"/>
<rect x="370" y="17" width="1" height="4"/>
<rect x="394" y="360" width="1" height="4"/>
<rect x="394" y="17" width="1" height="4"/>
<rect x="418" y="356" width="1" height="8"/>
<rect x="418" y="17" width="1" height="8"/>
<rect x="441" y="360" width="1" height="4"/>
<rect x="441" y="17" width="1" height="4"/>
<rect x="465" y="360" width="1" height="4"/>
<rect x="465" y="17" width="1" height="4"/>
<rect x="489" y="360" width="1" height="4"/>
<rect x="489" y="17" width="1" height="4"/>
<rect x="513" y="360" width="1" height="4"/>
<rect x="513" y="17" width="1" height="4"/>
<rect x="537" y="356" width="1" height="8"/>
<rect x="537" y="17" width="1" height="8"/>
<rect x="561" y="360" width="1" height="4"/>
<rect x="561" y="17" width="1" height="4"/>
<rect x="584" y="360" width="1" height="4"/>
<rect x="584" y="17" width="1" height="4"/>
<rect x="608" y="360" width="1" height="4"/>
<rect x="608" y="17" width="1" height="4"/>
<rect x="632" y="360" width="1" height="4"/>
<rect x="632" y="17" width="1" height="4"/>
<rect x="60" y="358" width="7" height="1"/>
<rect x="626" y="358" width="7" height="1"/>
<rect x="60" y="344" width="7" height="1"/>
<rect x="626" y="344" width="7" height="1"/>
<rect x="60" y="330" width="7" height="1"/>
<rect x="626" y="330" width="7" height="1"/>
<rect x="60" y="317" width="12" height="1"/>
<rect x="621" y="317" width="12" height="1"/>
<rect x="60" y="303" width="7" height="1"/>
<rect x="626" y="303" width="7" height="1"/>
<rect x="60" y="289" width="7" height="1"/>
<rect x="626" y="289" width="7" height="1"/>
<rect x="60" y="275" width="7" height="1"/>
<rect x="626" y="275" width="7" height="1"/>
<rect x="60" y="261" width="7" height="1"/>
<rect x="626" y="261" width="7" height="1"/>
<rect x="60" y="247" width="12" height="1"/>
<rect x="621" y="247" width="12" height="1"/>
<rect x="60" y="233" width="7" height="1"/>
<rect x="626" y="233" width="7" height="1"/>
<rect x="60" y="219" width="7" height="1"/>
<rect x="626" y="219" width="7" height="1"/>
<rect x="60" y="206" width="7" height="1"/>
<rect x="626" y="206" width="7" height="1"/>
<rect x="60" y="192" width="7" height="1"/>
<rect x="626" y="192" width="7" height="1"/>
<rect x="60" y="178" width="12" height="1"/>
<rect x="621" y="178" width="12" height="1"/>
<rect x="60" y="164" width="7" height="1"/>
<rect x="626" y="164" width="7" height="1"/>
<rect x="60" y="150" width="7" height="1"/>
<rect x="626" y="150" width="7" height="1"/>
<rect x="60" y="136" width="7" height="1"/>
<rect x="626" y="136" width="7" height="1"/>
<rect x="60" y="122" width="7" height="1"/>
<rect x="626" y="122" width="7" height="1"/>
<rect x="60" y="108" width="12" height="1"/>
<rect x="621" y="108" width="12" height="1"/>
<rect x="60" y="95" width="7" height="1"/>
<rect x="626" y="95" width="7" height="1"/>
<rect x="60" y="81" width="7" height="1"/>
<rect x="626" y="81" width="7" height="1"/>
<rect x="60" y="67" width="7" height="1"/>
<rect x="626" y="67" width="7" height="1"/>
<rect x="60" y="53" width="7" height="1"/>
<rect x="626" y="53" width="7" height="1"/>
<rect x="60" y="39" width="12" height="1"/>
<rect x="621" y="39" width="12" height="1"/>
<rect x="60" y="25" width="7" height="1"/>
<rect x="626" y="25" width="7" height="1"/>
</g>
<g font-family="Liberation Sans, Arial, sans-serif" fill="#000" text-rendering="geometricPrecision" stroke="#000" stroke-width="0.25">
<text x="111.10" y="13" font-size="12.5" textLength="47.40" lengthAdjust="spacingAndGlyphs" stroke="none">Channel</text>
<text y="13" font-size="12.5" stroke="none"><tspan x="165.50" textLength="8.00" lengthAdjust="spacingAndGlyphs">2</tspan><tspan x="173.90" dy="-1" textLength="10.20" lengthAdjust="spacingAndGlyphs">-</tspan><tspan x="184.00" dy="1" textLength="7.50" lengthAdjust="spacingAndGlyphs">4</tspan></text>
<text y="13" font-size="12.5" stroke="none"><tspan x="210.50" textLength="61.00" lengthAdjust="spacingAndGlyphs">Zirconium</tspan><tspan x="271.40" dy="-1" textLength="10.60" lengthAdjust="spacingAndGlyphs">-</tspan><tspan x="282.50" dy="1" textLength="28.60" lengthAdjust="spacingAndGlyphs">Filter</tspan></text>
<text y="13" font-size="12.5" stroke="none"><tspan x="331.30" textLength="7.40" lengthAdjust="spacingAndGlyphs">6</tspan><tspan x="339.00" dy="-1" textLength="10.00" lengthAdjust="spacingAndGlyphs">-</tspan><tspan x="349.30" dy="1" textLength="34.20" lengthAdjust="spacingAndGlyphs">20nm</tspan></text>
<text x="391.50" y="13" font-size="12.5" textLength="9.40" lengthAdjust="spacingAndGlyphs" stroke="none">+</text>
<text x="407.50" y="13" font-size="12.5" textLength="26.60" lengthAdjust="spacingAndGlyphs" stroke="none">Xray</text>
<text x="453.50" y="13" font-size="12.5" textLength="11.60" lengthAdjust="spacingAndGlyphs" stroke="none">(1</text>
<text x="472.70" y="13" font-size="12.5" textLength="41.60" lengthAdjust="spacingAndGlyphs" stroke="none">minute</text>
<text x="520.70" y="13" font-size="12.5" textLength="60.10" lengthAdjust="spacingAndGlyphs" stroke="none">averages)</text>
<text x="36.00" y="321" font-size="10" textLength="21.50" lengthAdjust="spacingAndGlyphs" >1.00</text>
<text x="36.00" y="251" font-size="10" textLength="21.50" lengthAdjust="spacingAndGlyphs" >1.05</text>
<text x="36.00" y="182" font-size="10" textLength="21.50" lengthAdjust="spacingAndGlyphs" >1.10</text>
<text x="36.00" y="112" font-size="10" textLength="21.50" lengthAdjust="spacingAndGlyphs" >1.15</text>
<text x="36.00" y="43" font-size="10" textLength="21.50" lengthAdjust="spacingAndGlyphs" >1.20</text>
<text x="56.50" y="377" font-size="10" textLength="7.00" lengthAdjust="spacingAndGlyphs" >0</text>
<text x="175.50" y="377" font-size="10" textLength="7.00" lengthAdjust="spacingAndGlyphs" >5</text>
<text x="293.20" y="377" font-size="10" textLength="11.80" lengthAdjust="spacingAndGlyphs" >10</text>
<text x="411.30" y="377" font-size="10" textLength="13.20" lengthAdjust="spacingAndGlyphs" >15</text>
<text x="530.00" y="377" font-size="10" textLength="13.50" lengthAdjust="spacingAndGlyphs" >20</text>
<text x="273.90" y="389" font-size="10" textLength="22.80" lengthAdjust="spacingAndGlyphs" >Time</text>
<text x="314.60" y="389" font-size="10" textLength="4.60" lengthAdjust="spacingAndGlyphs" >h</text>
<text x="325.50" y="389" font-size="10" textLength="21.00" lengthAdjust="spacingAndGlyphs" >UTC,</text>
<text x="351.50" y="389" font-size="10" textLength="11.00" lengthAdjust="spacingAndGlyphs" >27</text>
<text x="369.50" y="389" font-size="10" textLength="19.00" lengthAdjust="spacingAndGlyphs" >May</text>
<text x="393.80" y="389" font-size="10" textLength="25.10" lengthAdjust="spacingAndGlyphs" >2025</text>
<text transform="translate(302.1,391.7) skewX(-14.4)" font-size="16">/</text>
<text x="67.15" y="38" font-size="10" textLength="25.45" lengthAdjust="spacingAndGlyphs" >5930</text>
<text x="67.15" y="47" font-size="10" textLength="22.05" lengthAdjust="spacingAndGlyphs" >B9.7</text>
<text x="98.30" y="38" font-size="10" textLength="25.20" lengthAdjust="spacingAndGlyphs" >5950</text>
<text x="98.30" y="47" font-size="10" textLength="23.00" lengthAdjust="spacingAndGlyphs" >C1.4</text>
<text x="89.70" y="58" font-size="10" textLength="25.70" lengthAdjust="spacingAndGlyphs" >5940</text>
<text x="89.70" y="67" font-size="10" textLength="23.10" lengthAdjust="spacingAndGlyphs" >C1.2</text>
<text x="244.30" y="38" font-size="10" textLength="25.40" lengthAdjust="spacingAndGlyphs" >5990</text>
<text x="244.30" y="47" font-size="10" textLength="22.40" lengthAdjust="spacingAndGlyphs" >C5.0</text>
<text x="223.70" y="58" font-size="10" textLength="25.60" lengthAdjust="spacingAndGlyphs" >5980</text>
<text x="223.70" y="67" font-size="10" textLength="23.10" lengthAdjust="spacingAndGlyphs" >C2.3</text>
<text x="614.00" y="38" font-size="10" textLength="25.30" lengthAdjust="spacingAndGlyphs" >6110</text>
<text x="614.00" y="47" font-size="10" textLength="22.60" lengthAdjust="spacingAndGlyphs" >C1.5</text>
<text x="573.00" y="58" font-size="10" textLength="25.70" lengthAdjust="spacingAndGlyphs" >6100</text>
<text x="573.00" y="67" font-size="10" textLength="22.70" lengthAdjust="spacingAndGlyphs" >C1.6</text>
<g transform="translate(27,265.5) rotate(-90)">
<text x="-0.40" y="0" font-size="10" textLength="49.30" lengthAdjust="spacingAndGlyphs">Calibrated</text>
<text x="54.70" y="0" font-size="10" textLength="29.20" lengthAdjust="spacingAndGlyphs">Signal</text>
<text transform="translate(88.1,2.5) skewX(-14.4)" font-size="16">/</text>
<text x="101.70" y="0" font-size="10" textLength="20.90" lengthAdjust="spacingAndGlyphs">(mW</text>
<text x="127.10" y="0" font-size="10" textLength="8.80" lengthAdjust="spacingAndGlyphs">m</text>
<text x="137.00" y="-4.6" font-size="7" textLength="4.50" lengthAdjust="spacingAndGlyphs">-</text>
<text x="141.80" y="-5.5" font-size="6.5" textLength="5.40" lengthAdjust="spacingAndGlyphs">2</text>
<text x="145.50" y="0" font-size="10" textLength="3.00" lengthAdjust="spacingAndGlyphs">)</text>
</g>
</g>
</svg>
</body></html>
